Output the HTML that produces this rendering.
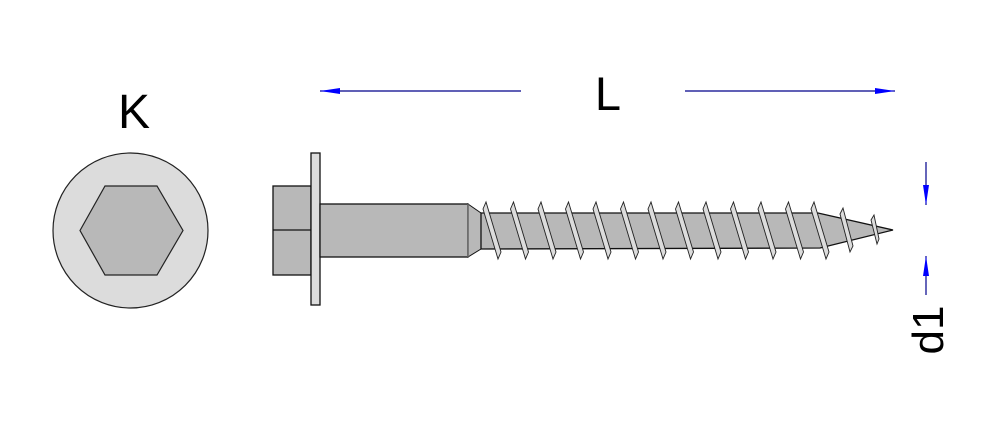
<!DOCTYPE html>
<html><head><meta charset="utf-8"><style>
html,body{margin:0;padding:0;background:#fff;}
svg{display:block;}
text{font-family:"Liberation Sans",Arial,sans-serif;}
</style></head><body>
<svg width="1006" height="448" viewBox="0 0 1006 448" xmlns="http://www.w3.org/2000/svg">
<defs>
<marker id="ah" markerWidth="20" markerHeight="8" refX="20" refY="4" orient="auto" markerUnits="userSpaceOnUse">
<path d="M0,1 L20,4 L0,7 Z" fill="#0000ff"/>
</marker>
</defs>
<!-- K view -->
<circle cx="130.5" cy="230.5" r="77.5" fill="#dcdcdc" stroke="#222" stroke-width="1.2"/>
<polygon points="80,230.5 105,186 157,186 183,230.5 157,275 105,275" fill="#b8b8b8" stroke="#222" stroke-width="1.2"/>
<text x="134" y="128" font-size="48" text-anchor="middle" fill="#000">K</text>
<!-- L dimension -->
<line x1="521" y1="91" x2="320" y2="91" stroke="#00008b" stroke-width="1.2" marker-end="url(#ah)"/>
<line x1="685" y1="91" x2="895" y2="91" stroke="#00008b" stroke-width="1.2" marker-end="url(#ah)"/>
<text x="608" y="110" font-size="47" text-anchor="middle" fill="#000">L</text>
<!-- d1 dimension -->
<line x1="926" y1="162" x2="926" y2="205" stroke="#00008b" stroke-width="1.2" marker-end="url(#ah)"/>
<line x1="926" y1="295" x2="926" y2="256" stroke="#00008b" stroke-width="1.2" marker-end="url(#ah)"/>
<text transform="translate(943,330) rotate(-90)" font-size="44" text-anchor="middle" fill="#000">d1</text>
<!-- screw head -->
<rect x="273" y="186" width="38" height="89" fill="#b8b8b8" stroke="#111" stroke-width="1.3"/>
<line x1="273" y1="230" x2="311" y2="230" stroke="#111" stroke-width="1.3"/>
<rect x="311" y="153" width="9" height="152" fill="#dcdcdc" stroke="#111" stroke-width="1.3"/>
<!-- shank -->
<rect x="320" y="204" width="148" height="53" fill="#b8b8b8" stroke="#111" stroke-width="1.3"/>
<polygon points="468,204 481,213 481,249 468,257" fill="#b8b8b8" stroke="#111" stroke-width="1"/>
<line x1="468" y1="204" x2="468" y2="257" stroke="#666" stroke-width="1.5"/>
<!-- core -->
<polygon points="481,213 818,213 893,230 820,248 481,249" fill="#b8b8b8" stroke="#111" stroke-width="1.3"/>
<!-- threads -->
<g fill="#dcdcdc" stroke="#222" stroke-width="0.9">
<polygon points="483,209 486,202 501,252 498,259"/>
<polygon points="510.5,209 513.5,202 528.5,252 525.5,259"/>
<polygon points="538,209 541,202 556,252 553,259"/>
<polygon points="565.5,209 568.5,202 583.5,252 580.5,259"/>
<polygon points="593,209 596,202 611,252 608,259"/>
<polygon points="620.5,209 623.5,202 638.5,252 635.5,259"/>
<polygon points="648,209 651,202 666,252 663,259"/>
<polygon points="675.5,209 678.5,202 693.5,252 690.5,259"/>
<polygon points="703,209 706,202 721,252 718,259"/>
<polygon points="730.5,209 733.5,202 748.5,252 745.5,259"/>
<polygon points="758,209 761,202 776,252 773,259"/>
<polygon points="785.5,209 788.5,202 803.5,252 800.5,259"/>
<polygon points="811,209 814,202 829,252 826,259"/>
<polygon points="840,214 843,208 853,246 850,252"/>
<polygon points="871,220 874,215 879,239 877,244"/>
</g>
</svg>
</body></html>
